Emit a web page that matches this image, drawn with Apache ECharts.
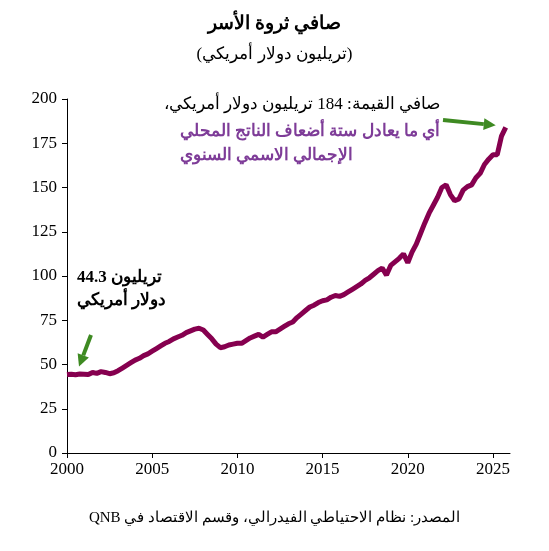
<!DOCTYPE html>
<html>
<head>
<meta charset="utf-8">
<script src="https://cdn.jsdelivr.net/npm/echarts@6/dist/echarts.min.js"></script>
<style>html,body{margin:0;padding:0;background:#fff}#chart{width:549px;height:551px}</style>
</head>
<body>
<div id="chart"></div>
<script>
const startYear = 2000;
// quarterly net worth, trillion USD
const wealth = [
    44.3, 44.5, 44.2, 44.6,  44.5, 44.3, 45.5, 45.0,  46.0, 45.5, 44.8, 45.3,
    46.5, 48.0, 49.5, 51.0,  52.5, 53.5, 55.0, 56.0,  57.5, 59.0, 60.5, 62.0,
    63.0, 64.5, 65.5, 66.5,  68.0, 69.0, 70.0, 70.5,  69.5, 67.0, 64.5, 61.5,
    59.5, 60.0, 61.0, 61.5,  62.0, 62.0, 63.5, 65.0,  66.0, 67.0, 65.5, 67.0,
    68.5, 68.5, 70.0, 71.5,  73.0, 74.0, 76.5, 78.5,  80.5, 82.5, 83.5, 85.0,
    86.0, 86.5, 88.0, 89.0,  88.5, 89.5, 91.0, 92.5,  94.0, 95.5, 97.5, 99.0,
    101.0, 103.0, 104.5, 100.5,  106.0, 108.0, 110.0, 112.5,  107.5, 113.5, 118.0, 124.0,
    130.0, 135.5, 140.0, 144.5,  150.0, 151.5, 146.0, 142.5,  143.5, 148.5, 150.5, 151.5,
    155.5, 158.0, 163.0, 166.0,  168.5, 168.5, 179.0, 184.0
];
const points = wealth.map((v, i) => [startYear + i / 4, v]);
const rtl = s => s.split('\n').map(l => '\u202B' + l + '\u202C').join('\n');
const titleText = rtl('صافي ثروة الأسر');
const subText = rtl('(تريليون دولار أمريكي)');
const sourceText = rtl('المصدر: نظام الاحتياطي الفيدرالي، وقسم الاقتصاد في QNB');

const font = '"Liberation Serif", "DejaVu Serif", serif';
const chart = echarts.init(document.getElementById('chart'));

chart.setOption({
    animation: false,
    textStyle: { fontFamily: font },
    title: {
        text: titleText, subtext: subText, left: 'center', top: 10, itemGap: 12,
        textStyle: { fontSize: 19, fontWeight: 'bold', color: '#000', fontFamily: font },
        subtextStyle: { fontSize: 17, color: '#000', fontFamily: font }
    },
    grid: { left: 67, right: 39, top: 99, bottom: 98 },
    xAxis: {
        type: 'value', min: 2000, max: 2026, interval: 5,
        axisLine: { lineStyle: { color: '#000' } },
        axisTick: { lineStyle: { color: '#000' }, length: 5 },
        axisLabel: { color: '#000', fontSize: 17, fontFamily: font, showMaxLabel: false, margin: 8, formatter: v => String(v) },
        splitLine: { show: false }
    },
    yAxis: {
        type: 'value', min: 0, max: 200, interval: 25,
        axisLine: { show: true, lineStyle: { color: '#000' } },
        axisTick: { show: true, lineStyle: { color: '#000' }, length: 5 },
        axisLabel: { color: '#000', fontSize: 17, fontFamily: font, margin: 10 },
        splitLine: { show: false }
    },
    series: [{
        type: 'line', data: points, symbol: 'none',
        lineStyle: { color: '#86004f', width: 5 }
    }]
});

const first = chart.convertToPixel({ gridIndex: 0 }, points[0]);
const last = chart.convertToPixel({ gridIndex: 0 }, points[points.length - 1]);

function arrow(x1, y1, x2, y2) {
    const a = Math.atan2(y2 - y1, x2 - x1), L = 12, W = 6;
    const bx = x2 - L * Math.cos(a), by = y2 - L * Math.sin(a);
    return [
        { type: 'line', shape: { x1, y1, x2: bx, y2: by }, style: { stroke: '#3e8a22', lineWidth: 4 } },
        { type: 'polygon', shape: { points: [[x2, y2],
            [bx + W * Math.sin(a), by - W * Math.cos(a)],
            [bx - W * Math.sin(a), by + W * Math.cos(a)]] }, style: { fill: '#3e8a22' } }
    ];
}

chart.setOption({
    graphic: [
        ...arrow(first[0] + 24, 335, first[0] + 12, first[1] - 8),
        ...arrow(443, 120, last[0] - 10, last[1] - 2),
        { type: 'text', left: 77, top: 266, style: { text: rtl('تريليون 44.3\nدولار أمريكي'), font: 'bold 17px ' + font, fill: '#000', lineHeight: 23, align: 'left' } },
        { type: 'text', right: 109, top: 96, style: { text: rtl('صافي القيمة: 184 تريليون دولار أمريكي،'), font: '17px ' + font, fill: '#000', align: 'right' } },
        { type: 'text', right: 109, top: 120, style: { text: rtl('أي ما يعادل ستة أضعاف الناتج المحلي\nالإجمالي الاسمي السنوي'), font: 'bold 17px ' + font, fill: '#7e3c98', lineHeight: 24, align: 'right' } },
        { type: 'text', left: 'center', top: 511, style: { text: sourceText, font: '15px ' + font, fill: '#000' } }
    ]
});
</script>
</body>
</html>
